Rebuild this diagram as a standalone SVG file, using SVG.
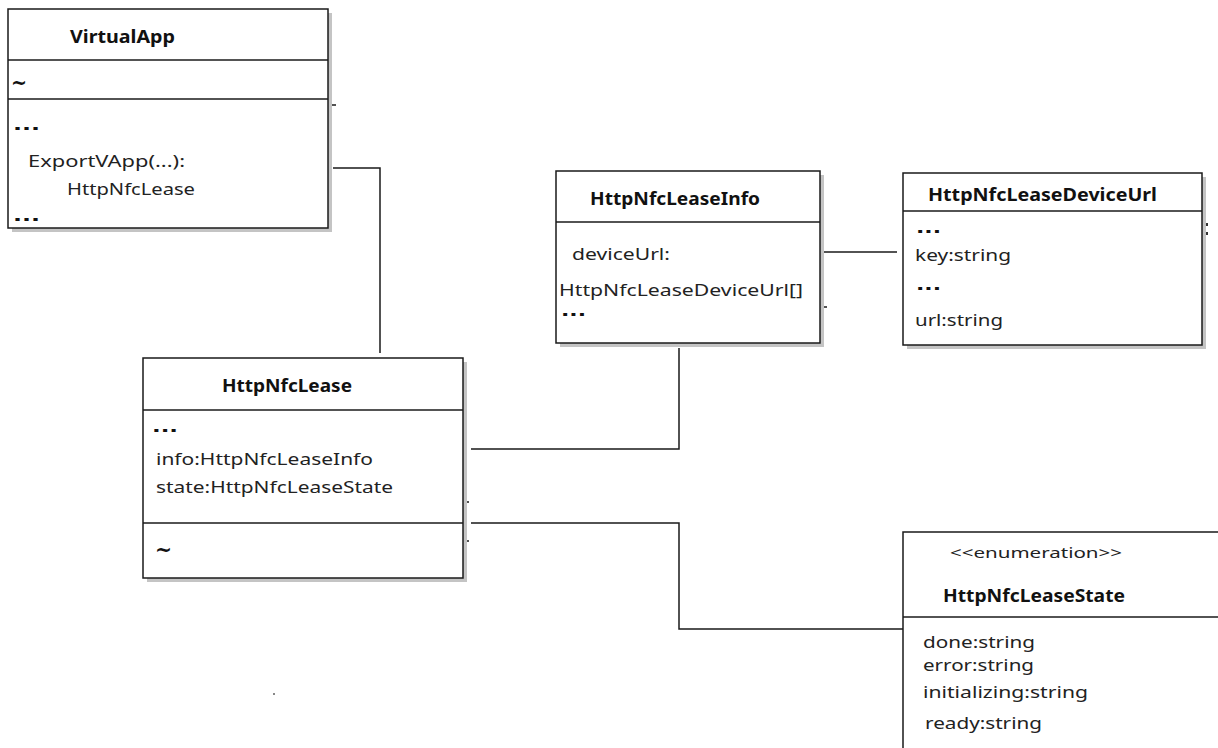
<svg xmlns="http://www.w3.org/2000/svg" width="1218" height="748" viewBox="0 0 1218 748">
<style>
.shadow{fill:#c4c4c4}
.box{fill:#fff;stroke:#1a1a1a;stroke-width:1.5}
.div{stroke:#1a1a1a;stroke-width:1.5}
.conn{fill:none;stroke:#1a1a1a;stroke-width:1.5}
.t{font-family:"Noto Sans","Open Sans","DejaVu Sans",sans-serif;font-size:17px;fill:#222}
.e{font-family:"Noto Sans","Open Sans","DejaVu Sans",sans-serif;font-size:16px;fill:#222}
.b{font-family:"Noto Sans","Open Sans","DejaVu Sans",sans-serif;font-size:17px;font-weight:bold;fill:#111}
.s{font-family:"Noto Sans","Open Sans","DejaVu Sans",sans-serif;font-size:15px;fill:#222}
.dots{font-family:"DejaVu Sans",sans-serif;font-size:16px;font-weight:bold;fill:#111}
.tilde{font-family:"DejaVu Sans",sans-serif;font-size:22px;font-weight:bold;fill:#111}
</style>
<rect width="1218" height="748" fill="#fff"/>

<g id="connectors">
  <path class="conn" d="M333 168 H380 V353"/>
  <path class="conn" d="M328 105 H336"/>
  <rect x="329" y="191" width="2" height="2" fill="#333"/>
  <path class="conn" d="M471 449 H679 V348"/>
  <path class="conn" d="M463 502 H469"/>
  <path class="conn" d="M471 523 H679 V629 H903"/>
  <path class="conn" d="M463 541 H469"/>
  <path class="conn" d="M824 252 H897"/>
  <path class="conn" d="M820 307 H827"/>
  <rect x="1206" y="223" width="2" height="3" fill="#333"/>
  <rect x="1206" y="232" width="2" height="3" fill="#333"/>
  <rect x="273" y="693" width="2" height="2" fill="#888"/>
</g>

<g id="VirtualApp">
  <rect class="shadow" x="12" y="13" width="320" height="219"/>
  <rect class="box" x="8" y="9" width="320" height="219"/>
  <line class="div" x1="8" y1="60" x2="328" y2="60"/>
  <line class="div" x1="8" y1="99" x2="328" y2="99"/>
  <text class="b" x="70" y="43" textLength="105" lengthAdjust="spacingAndGlyphs">VirtualApp</text>
  <text class="tilde" x="11" y="90" textLength="16" lengthAdjust="spacingAndGlyphs">~</text>
  <text class="dots" x="13" y="130" textLength="27" lengthAdjust="spacingAndGlyphs">...</text>
  <text class="t" x="28" y="167" textLength="157" lengthAdjust="spacingAndGlyphs">ExportVApp(...):</text>
  <text class="t" x="67" y="195" textLength="128" lengthAdjust="spacingAndGlyphs">HttpNfcLease</text>
  <text class="dots" x="13" y="221" textLength="27" lengthAdjust="spacingAndGlyphs">...</text>
</g>

<g id="HttpNfcLease">
  <rect class="shadow" x="147" y="362" width="320" height="220"/>
  <rect class="box" x="143" y="358" width="320" height="220"/>
  <line class="div" x1="143" y1="410" x2="463" y2="410"/>
  <line class="div" x1="143" y1="523" x2="463" y2="523"/>
  <text class="b" x="222" y="392" textLength="130" lengthAdjust="spacingAndGlyphs">HttpNfcLease</text>
  <text class="dots" x="152" y="432" textLength="26" lengthAdjust="spacingAndGlyphs">...</text>
  <text class="t" x="156" y="465" textLength="217" lengthAdjust="spacingAndGlyphs">info:HttpNfcLeaseInfo</text>
  <text class="t" x="156" y="493" textLength="237" lengthAdjust="spacingAndGlyphs">state:HttpNfcLeaseState</text>
  <text class="tilde" x="155" y="557" textLength="17" lengthAdjust="spacingAndGlyphs">~</text>
</g>

<g id="HttpNfcLeaseInfo">
  <rect class="shadow" x="560" y="175" width="264" height="172"/>
  <rect class="box" x="556" y="171" width="264" height="172"/>
  <line class="div" x1="556" y1="222" x2="820" y2="222"/>
  <text class="b" x="590" y="205" textLength="170" lengthAdjust="spacingAndGlyphs">HttpNfcLeaseInfo</text>
  <text class="t" x="572" y="260" textLength="98" lengthAdjust="spacingAndGlyphs">deviceUrl:</text>
  <text class="t" x="559" y="296" textLength="244" lengthAdjust="spacingAndGlyphs">HttpNfcLeaseDeviceUrl[]</text>
  <text class="dots" x="561" y="316" textLength="25" lengthAdjust="spacingAndGlyphs">...</text>
</g>

<g id="HttpNfcLeaseDeviceUrl">
  <rect class="shadow" x="907" y="177" width="299" height="172"/>
  <rect class="box" x="903" y="173" width="299" height="172"/>
  <line class="div" x1="903" y1="211" x2="1202" y2="211"/>
  <text class="b" x="928" y="201" textLength="229" lengthAdjust="spacingAndGlyphs">HttpNfcLeaseDeviceUrl</text>
  <text class="dots" x="916" y="233" textLength="25" lengthAdjust="spacingAndGlyphs">...</text>
  <text class="t" x="915" y="261" textLength="96" lengthAdjust="spacingAndGlyphs">key:string</text>
  <text class="dots" x="916" y="290" textLength="25" lengthAdjust="spacingAndGlyphs">...</text>
  <text class="t" x="915" y="326" textLength="88" lengthAdjust="spacingAndGlyphs">url:string</text>
</g>

<g id="HttpNfcLeaseState">
  <rect class="box" x="903" y="532" width="330" height="230"/>
  <line class="div" x1="903" y1="617" x2="1218" y2="617"/>
  <text class="s" x="950" y="558" textLength="172" lengthAdjust="spacingAndGlyphs">&lt;&lt;enumeration&gt;&gt;</text>
  <text class="b" x="943" y="602" textLength="182" lengthAdjust="spacingAndGlyphs">HttpNfcLeaseState</text>
  <text class="e" x="923" y="648" textLength="112" lengthAdjust="spacingAndGlyphs">done:string</text>
  <text class="e" x="923" y="671" textLength="111" lengthAdjust="spacingAndGlyphs">error:string</text>
  <text class="e" x="923" y="698" textLength="165" lengthAdjust="spacingAndGlyphs">initializing:string</text>
  <text class="e" x="925" y="729" textLength="117" lengthAdjust="spacingAndGlyphs">ready:string</text>
</g>
</svg>
